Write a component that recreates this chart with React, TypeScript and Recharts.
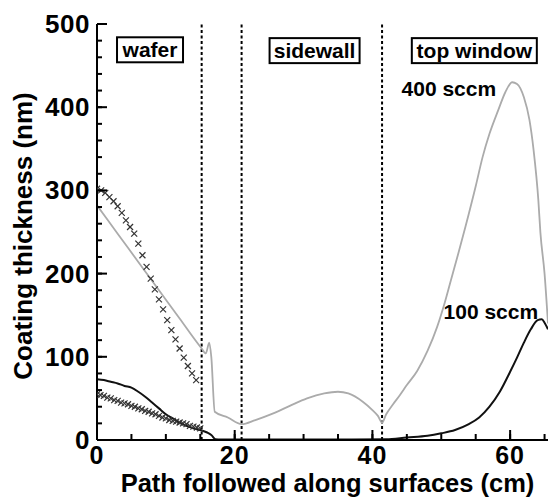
import React from 'react';
import {
  ComposedChart, Line, Scatter, XAxis, YAxis, ReferenceLine, ReferenceDot, Label,
} from 'recharts';

// 400 sccm simulation (grey line): [path cm, thickness nm]
const sim400: [number, number][] = [
  [0, 282], [3, 248], [6, 214], [9, 180], [12, 146], [15.2, 110], [15.8, 104], [16.3, 117],
  [16.6, 100], [17.1, 34], [19, 27], [21, 19], [23, 24], [25.6, 32], [28, 41], [30.5, 50],
  [33, 56], [35, 58], [36.5, 56], [38.6, 46], [40, 36], [40.8, 29], [41.4, 21], [42, 31],
  [43, 43], [44, 54], [45, 66], [46.5, 83], [48, 107], [49.4, 136], [50.5, 165], [51.3, 189],
  [52.5, 225], [53.5, 256], [55, 305], [56, 340], [57, 368], [58.3, 397], [59.3, 418],
  [60.3, 430], [61, 428], [62, 412], [62.8, 385], [63.4, 349], [64.1, 288], [64.4, 249],
  [65, 200], [65.5, 140],
];

// 100 sccm simulation (black line)
const sim100: [number, number][] = [
  [0, 73], [1, 72], [2, 70], [3, 68], [4, 65], [5, 63], [6, 58], [7, 52], [8, 45], [9, 38],
  [10, 31], [11, 26], [12, 21], [13, 17], [14, 14], [15, 12], [16, 9], [16.6, 6], [17.2, 1],
  [18, 0.5], [25, 0.5], [35, 0.5], [42, 1], [45, 3], [48, 5], [50, 8], [52, 12], [54, 19],
  [55.5, 27], [57, 40], [58.5, 58], [60, 82], [61, 99], [62, 117], [63, 133], [64, 144],
  [64.6, 145], [65, 141], [65.5, 133],
];

// 400 sccm experiment (upper crosses)
const exp400: [number, number][] = [
  [0, 302], [0.6, 300], [1.2, 297], [1.8, 292], [2.4, 287], [3.0, 281], [3.6, 273], [4.2, 264],
  [4.8, 256], [5.4, 248], [6.0, 236], [6.6, 222], [7.2, 208], [7.8, 194], [8.4, 181], [9.0, 169],
  [9.6, 157], [10.2, 144], [10.8, 132], [11.4, 121], [12.0, 110], [12.6, 99], [13.2, 89],
  [13.8, 80], [14.4, 72],
];

// 100 sccm experiment (lower crosses)
const exp100: [number, number][] = [
  [0, 55], [0.5, 54], [1, 53], [1.5, 51], [2, 50], [2.5, 48], [3, 47], [3.5, 45], [4, 44],
  [4.5, 43], [5, 41], [5.5, 40], [6, 38], [6.5, 37], [7, 35], [7.5, 34], [8, 32], [8.5, 31],
  [9, 29], [9.5, 27], [10, 26], [10.5, 24], [11, 23], [11.5, 22], [12, 21], [12.5, 20],
  [13, 19], [13.5, 17], [14, 16], [14.5, 15], [15, 14],
];

const regionBounds = [15.2, 21, 41.4];
const xTicks = [0, 5, 10, 15, 20, 25, 30, 35, 40, 45, 50, 55, 60, 65];
const xMajor = [0, 20, 40, 60];
const yTicks = [0, 20, 40, 60, 80, 100, 120, 140, 160, 180, 200, 220, 240, 260, 280, 300, 320, 340, 360, 380, 400, 420, 440, 460, 480, 500];
const yMajor = [0, 100, 200, 300, 400, 500];

const regionLabels: { x: number; y: number; text: string; w: number }[] = [
  { x: 7.7, y: 469, text: 'wafer', w: 66 },
  { x: 31.6, y: 468, text: 'sidewall', w: 90 },
  { x: 54.8, y: 468, text: 'top window', w: 125 },
];
const seriesLabels: { x: number; y: number; text: string }[] = [
  { x: 51.1, y: 422, text: '400 sccm' },
  { x: 57.2, y: 155, text: '100 sccm' },
];

const toXY = (arr: [number, number][]) => arr.map(([x, y]) => ({ x, y }));

const FONT = '"Liberation Sans", Arial, Helvetica, sans-serif';
const TICK_LINE = { stroke: '#000', strokeWidth: 2 };

const XTickBottom = (p: any) => {
  const x = Number(p.x);
  const y = Number(p.y);
  const v = p.payload?.value;
  const major = xMajor.includes(v);
  return (
    <g>
      {major && <line x1={x} x2={x} y1={y} y2={y - 10} stroke="#000" strokeWidth={2} />}
      {major && (
        <text x={x} y={y + 24} textAnchor="middle" fontFamily={FONT} fontWeight="bold" fontSize={25} fill="#000" letterSpacing={1}>
          {v}
        </text>
      )}
    </g>
  );
};
const XTickTop = (p: any) => {
  const x = Number(p.x);
  const y = Number(p.y);
  const major = xMajor.includes(p.payload?.value);
  return major ? <line x1={x} x2={x} y1={y} y2={y + 10} stroke="#000" strokeWidth={2} /> : <g />;
};
const YTickLeft = (p: any) => {
  const x = Number(p.x);
  const y = Number(p.y);
  const v = p.payload?.value;
  const major = yMajor.includes(v);
  return (
    <g>
      {major && <line x1={x} x2={x + 10} y1={y} y2={y} stroke="#000" strokeWidth={2} />}
      {major && (
        <text x={x - 7} y={y + 9} textAnchor="end" fontFamily={FONT} fontWeight="bold" fontSize={26} fill="#000" letterSpacing={0.5}>
          {v}
        </text>
      )}
    </g>
  );
};
const YTickRight = (p: any) => {
  const x = Number(p.x);
  const y = Number(p.y);
  const major = yMajor.includes(p.payload?.value);
  return major ? <line x1={x} x2={x - 10} y1={y} y2={y} stroke="#000" strokeWidth={2} /> : <g />;
};

const Cross = (p: any) => {
  const { cx, cy } = p;
  if (cx == null || cy == null) return null;
  const s = 3;
  return (
    <g stroke="#333" strokeWidth={1.2}>
      <line x1={cx - s} y1={cy - s} x2={cx + s} y2={cy + s} />
      <line x1={cx - s} y1={cy + s} x2={cx + s} y2={cy - s} />
    </g>
  );
};

export default function App() {
  return (
    <div style={{ position: 'absolute', left: 0, top: 0, background: '#fff' }}>
      <ComposedChart width={551} height={497} margin={{ top: 24, right: 3, bottom: 0, left: 0 }}>
        <XAxis
          xAxisId={0}
          type="number"
          dataKey="x"
          domain={[0, 65.5]}
          ticks={xTicks}
          interval={0}
          allowDataOverflow
          height={57}
          tickSize={-6}
          tickMargin={6}
          tickLine={TICK_LINE}
          tick={XTickBottom}
          axisLine={{ stroke: '#000', strokeWidth: 2 }}
        >
          <Label
            value="Path followed along surfaces (cm)"
            position="insideBottom"
            offset={5}
            dx={5}
            style={{ fontFamily: FONT, fontWeight: 'bold', fontSize: 25.5, fill: '#000' }}
          />
        </XAxis>
        <XAxis
          xAxisId="top"
          orientation="top"
          type="number"
          dataKey="x"
          domain={[0, 65.5]}
          ticks={xTicks}
          interval={0}
          height={0}
          tickSize={-5}
          tickMargin={5}
          tickLine={TICK_LINE}
          tick={XTickTop}
          axisLine={{ stroke: '#000', strokeWidth: 2 }}
        />
        <YAxis
          yAxisId={0}
          type="number"
          domain={[0, 500]}
          ticks={yTicks}
          interval={0}
          width={97}
          tickSize={-5}
          tickMargin={5}
          tickLine={TICK_LINE}
          tick={YTickLeft}
          axisLine={{ stroke: '#000', strokeWidth: 2 }}
        >
          <Label
            value="Coating thickness (nm)"
            angle={-90}
            position="insideLeft"
            offset={23}
            dy={4}
            style={{ textAnchor: 'middle', fontFamily: FONT, fontWeight: 'bold', fontSize: 26, fill: '#000' }}
          />
        </YAxis>
        <YAxis
          yAxisId="r"
          orientation="right"
          type="number"
          domain={[0, 500]}
          ticks={yTicks}
          interval={0}
          width={0}
          tickSize={-5}
          tickMargin={5}
          tickLine={TICK_LINE}
          tick={YTickRight}
          axisLine={{ stroke: '#000', strokeWidth: 2 }}
        />
        {regionBounds.map((b) => (
          <ReferenceLine key={b} x={b} stroke="#000" strokeWidth={2} strokeDasharray="3 2.5" />
        ))}
        <Line data={toXY(sim400)} dataKey="y" type="monotone" stroke="#ababab" strokeWidth={1.8} dot={false} isAnimationActive={false} />
        <Line data={toXY(sim100)} dataKey="y" type="monotone" stroke="#111" strokeWidth={2} dot={false} isAnimationActive={false} />
        <Scatter data={toXY(exp400)} dataKey="y" shape={<Cross />} isAnimationActive={false} />
        <Scatter data={toXY(exp100)} dataKey="y" shape={<Cross />} isAnimationActive={false} />
        {regionLabels.map((r) => (
          <ReferenceDot
            key={r.text}
            x={r.x}
            y={r.y}
            r={0}
            shape={(p: any) => (
              <g>
                <rect x={p.cx - r.w / 2} y={p.cy - 12.5} width={r.w} height={25} fill="#fff" stroke="#000" strokeWidth={2} />
                <text x={p.cx} y={p.cy + 7.5} textAnchor="middle" fontFamily={FONT} fontWeight="bold" fontSize={21} fill="#000">
                  {r.text}
                </text>
              </g>
            )}
          />
        ))}
        {seriesLabels.map((s) => (
          <ReferenceDot
            key={s.text}
            x={s.x}
            y={s.y}
            r={0}
            shape={(p: any) => (
              <text x={p.cx} y={p.cy + 7.5} textAnchor="middle" fontFamily={FONT} fontWeight="bold" fontSize={21} fill="#000">
                {s.text}
              </text>
            )}
          />
        ))}
      </ComposedChart>
    </div>
  );
}
